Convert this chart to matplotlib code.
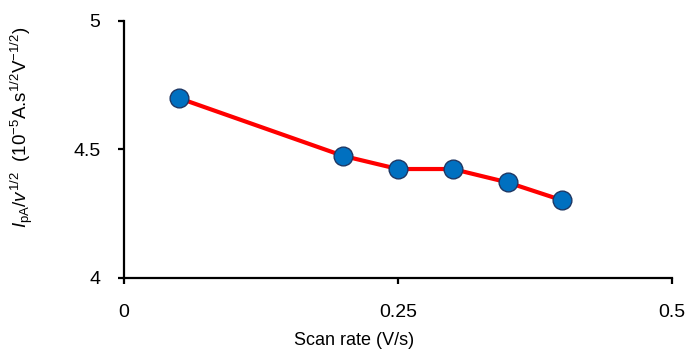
import matplotlib
matplotlib.use("Agg")
import matplotlib.pyplot as plt

# Scan rate (V/s) and normalised peak current
scan_rate = [0.05, 0.20, 0.25, 0.30, 0.35, 0.40]
ipa_norm = [4.70, 4.475, 4.424, 4.424, 4.372, 4.302]

xticks = [0, 0.25, 0.5]
xtick_labels = ["0", "0.25", "0.5"]
yticks = [4, 4.5, 5]
ytick_labels = ["4", "4.5", "5"]

plt.rcParams['font.family'] = ['Liberation Sans', 'DejaVu Sans']
plt.rcParams['mathtext.fontset'] = 'custom'
plt.rcParams['mathtext.rm'] = 'Liberation Sans'
plt.rcParams['mathtext.it'] = 'Liberation Sans:italic'

fig = plt.figure(figsize=(6.91, 3.6), dpi=100)
ax = fig.add_axes([0.1795, 0.2278, 0.9725 - 0.1795, 0.9417 - 0.2278])

ax.plot(scan_rate, ipa_norm, color='#FF0000', linewidth=3, zorder=2)
ax.plot(scan_rate, ipa_norm, linestyle='none', marker='o', markersize=13.5,
        markerfacecolor='#0070C0', markeredgecolor='#1F3864',
        markeredgewidth=1.0, zorder=3, clip_on=False)

ax.set_xlim(0, 0.5)
ax.set_ylim(4, 5)
ax.set_xticks(xticks)
ax.set_xticklabels(xtick_labels)
ax.set_yticks(yticks)
ax.set_yticklabels(ytick_labels)

for s in ['top', 'right']:
    ax.spines[s].set_visible(False)
for s in ['left', 'bottom']:
    ax.spines[s].set_linewidth(1.6)
ax.tick_params(axis='both', direction='out', length=4, width=1.6,
               labelsize=14, colors='black')
ax.tick_params(axis='x', pad=15)
ax.tick_params(axis='y', pad=13)

ax.set_xlabel("Scan rate (V/s)", fontsize=13)
ax.xaxis.set_label_coords(0.42, -0.21)
ax.set_ylabel(r"$I_{\mathrm{pA}}/v^{1/2}$  (10$^{-5}$A.s$^{1/2}$V$^{-1/2}$)",
              fontsize=13.5)
ax.yaxis.set_label_coords(-0.162, 0.585)

fig.savefig("out.png", dpi=100)
